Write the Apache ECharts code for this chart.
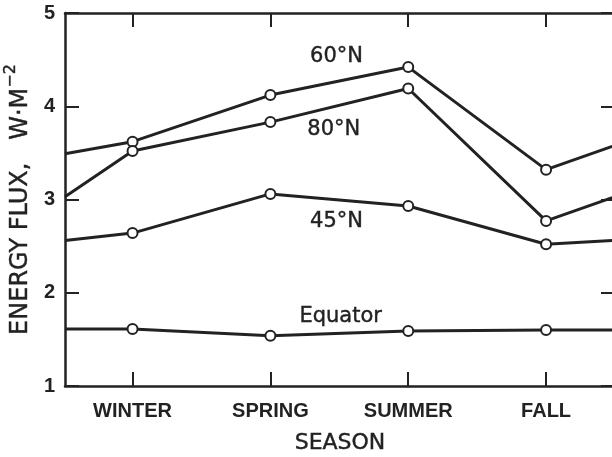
<!DOCTYPE html>
<html>
<head>
<meta charset="utf-8">
<script src="https://cdn.jsdelivr.net/npm/echarts@6/dist/echarts.min.js"></script>
<style>
html,body{margin:0;padding:0;background:#fff;}
#c{width:612px;height:457px;}
</style>
</head>
<body>
<div id="c"></div>
<script>
// Seasons (category labels) and their positions on the x scale
const seasons = ['WINTER', 'SPRING', 'SUMMER', 'FALL'];
const seasonX = [1, 2, 3, 4];
// The curves continue past the frame on both sides (cyclic year)
const edgeX = [0.51, 4.48];

// Values (W·m^-2), per season
const lat60 = [3.62, 4.12, 4.42, 3.32];
const lat80 = [3.52, 3.83, 4.19, 2.77];
const lat45 = [2.64, 3.06, 2.93, 2.52];
const equator = [1.61, 1.54, 1.59, 1.60];
// Values where the curves meet the left / right frame
const lat60Edge = [3.49, 3.57];
const lat80Edge = [3.03, 3.02];
const lat45Edge = [2.56, 2.56];
const equatorEdge = [1.61, 1.60];

const yTicks = [1, 2, 3, 4, 5];

const INK = '#222';

function build(vals, edge) {
  const d = [[edgeX[0], edge[0], 'edge']];
  vals.forEach((v, i) => d.push([seasonX[i], v]));
  d.push([edgeX[1], edge[1], 'edge']);
  return d.map(p => p[2] ? { value: [p[0], p[1]], symbol: 'none' } : { value: p });
}

function series(name, vals, edge, labelCoord) {
  return {
    name: name,
    type: 'line',
    data: build(vals, edge),
    symbol: 'circle',
    symbolSize: 10,
    showAllSymbol: true,
    lineStyle: { color: INK, width: 3 },
    itemStyle: { color: '#fff', borderColor: INK, borderWidth: 2 },
    z: 3,
    markPoint: {
      symbol: 'circle',
      symbolSize: 0,
      silent: true,
      data: [{ coord: labelCoord, value: name }],
      label: {
        show: true,
        position: 'inside',
        formatter: name,
        color: INK,
        fontFamily: 'DejaVu Sans',
        fontSize: 21,
        textBorderColor: INK,
        textBorderWidth: 0.4
      }
    }
  };
}

const chart = echarts.init(document.getElementById('c'), null, { renderer: 'canvas' });
chart.setOption({
  animation: false,
  backgroundColor: '#fff',
  grid: { left: 65, top: 13, width: 550, height: 373, containLabel: false, outerBoundsMode: 'none' },
  xAxis: [{
    type: 'value',
    min: edgeX[0],
    max: 4.5,
    position: 'bottom',
    name: 'SEASON',
    nameLocation: 'middle',
    nameGap: 46,
    nameTextStyle: { color: INK, fontFamily: 'DejaVu Sans', fontSize: 22, textBorderColor: INK, textBorderWidth: 0.4 },
    axisLine: { show: true, lineStyle: { color: INK, width: 2.5 } },
    axisTick: { show: true, inside: true, length: 14, customValues: seasonX, lineStyle: { color: INK, width: 2 } },
    axisLabel: {
      customValues: seasonX,
      formatter: v => seasons[seasonX.indexOf(Math.round(v))] || '',
      color: INK, fontFamily: 'Liberation Sans', fontWeight: 'bold', fontSize: 20, margin: 15
    },
    splitLine: { show: false }
  }, {
    type: 'value',
    min: edgeX[0],
    max: 4.5,
    position: 'top',
    axisLine: { show: true, lineStyle: { color: INK, width: 2.5 } },
    axisTick: { show: true, inside: true, length: 14, customValues: seasonX, lineStyle: { color: INK, width: 2 } },
    axisLabel: { show: false },
    splitLine: { show: false }
  }],
  yAxis: [{
    type: 'value',
    min: 1,
    max: 5,
    interval: 1,
    position: 'left',
    name: '{a|ENERGY FLUX,   W·M}{s|−2}',
    nameLocation: 'middle',
    nameRotate: 90,
    nameGap: 29,
    nameTextStyle: {
      rich: {
        a: { color: INK, fontFamily: 'DejaVu Sans', fontSize: 24, lineHeight: 30, verticalAlign: 'bottom', textBorderColor: INK, textBorderWidth: 0.4 },
        s: { color: INK, fontFamily: 'DejaVu Sans', fontSize: 16, lineHeight: 30, verticalAlign: 'top', textBorderColor: INK, textBorderWidth: 0.4 }
      }
    },
    axisLine: { show: true, lineStyle: { color: INK, width: 2.5 } },
    axisTick: { show: true, inside: true, length: 14, lineStyle: { color: INK, width: 2 } },
    axisLabel: {
      formatter: v => yTicks.includes(v) ? String(v) : '',
      color: INK, fontFamily: 'Liberation Sans', fontWeight: 'bold', fontSize: 20, margin: 10
    },
    splitLine: { show: false }
  }, {
    type: 'value',
    min: 1,
    max: 5,
    interval: 1,
    position: 'right',
    axisLine: { show: true, lineStyle: { color: INK, width: 2.5 } },
    axisTick: { show: true, inside: true, length: 14, lineStyle: { color: INK, width: 2 } },
    axisLabel: { show: false },
    splitLine: { show: false }
  }],
  series: [
    series('60°N', lat60, lat60Edge, [2.48, 4.53]),
    series('80°N', lat80, lat80Edge, [2.46, 3.75]),
    series('45°N', lat45, lat45Edge, [2.48, 2.76]),
    series('Equator', equator, equatorEdge, [2.51, 1.74])
  ]
});
</script>
</body>
</html>
